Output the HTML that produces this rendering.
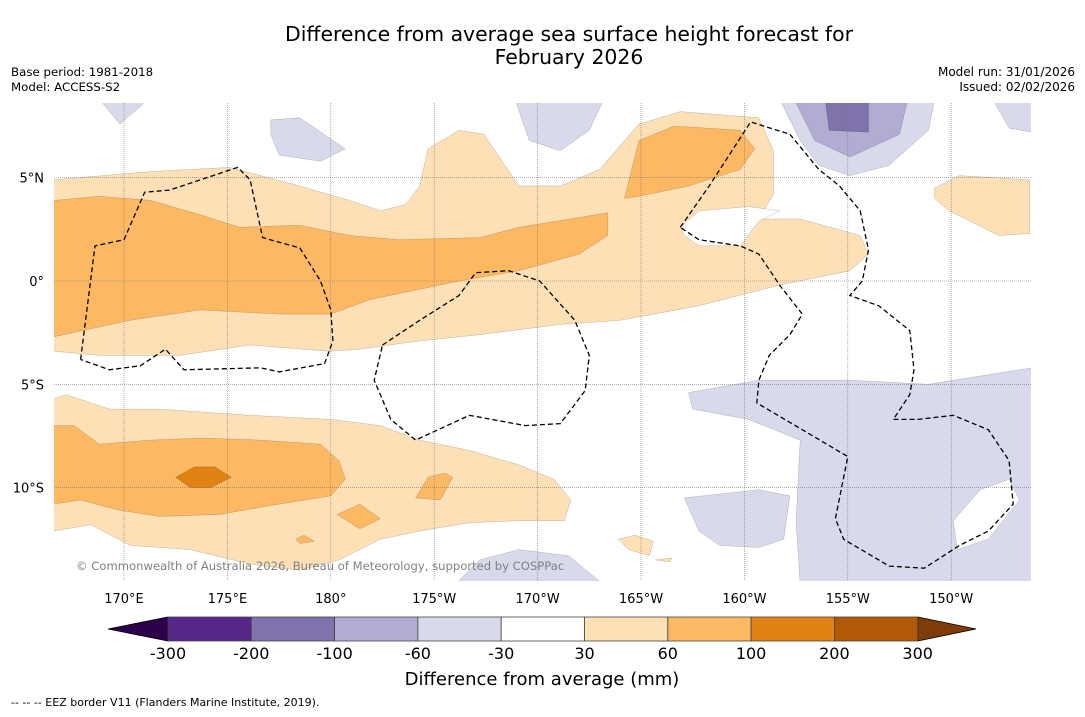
<!DOCTYPE html>
<html><head><meta charset="utf-8"><style>
html,body{margin:0;padding:0;background:#fff;}
body{width:1085px;height:713px;overflow:hidden;font-family:"DejaVu Sans","Liberation Sans",sans-serif;}
svg text{font-family:"DejaVu Sans","Liberation Sans",sans-serif;}
</style></head><body>
<svg id="chart" width="1085" height="713" viewBox="0 0 1085 713" xmlns="http://www.w3.org/2000/svg">
<text x="569" y="41" font-size="20.4" text-anchor="middle">Difference from average sea surface height forecast for</text>
<text x="569" y="64" font-size="20.4" text-anchor="middle">February 2026</text>
<text x="11" y="76" font-size="11.8">Base period: 1981-2018</text>
<text x="11" y="91" font-size="11.8">Model: ACCESS-S2</text>
<text x="1075" y="76" font-size="12" text-anchor="end">Model run: 31/01/2026</text>
<text x="1075" y="91" font-size="12" text-anchor="end">Issued: 02/02/2026</text>
<defs><clipPath id="mapclip"><rect x="54" y="103" width="977" height="478"/></clipPath></defs>
<g id="map" clip-path="url(#mapclip)"></g>
<g id="axes"></g>
<text x="76" y="570" font-size="11.6" fill="#808080">© Commonwealth of Australia 2026, Bureau of Meteorology, supported by COSPPac</text>
<g id="cbar"></g>
<text x="542" y="685" font-size="18" text-anchor="middle">Difference from average (mm)</text>
<text x="11" y="706" font-size="11">--  --  -- EEZ border V11 (Flanders Marine Institute, 2019).</text>
</svg>
<script>
const lonTicks=[170,175,180,185,190,195,200,205,210];
const lonTickLabels=["170°E","175°E","180°","175°W","170°W","165°W","160°W","155°W","150°W"];
const latTicks=[5,0,-5,-10];
const latTickLabels=["5°N","0°","5°S","10°S"];
const levels=[-300,-200,-100,-60,-30,30,60,100,200,300];
const levelColors=["#542788","#8073ac","#b2abd2","#d8daeb","#ffffff","#fee0b6","#fdb863","#e08214","#b35806"];
const extLowColor="#2d004b", extHighColor="#7f3b08";
const northLight=[[166.6,4.9],[171.3,5.3],[175.1,5.5],[178.5,4.6],[180.9,3.9],[182.4,3.4],[183.6,3.7],[184.3,4.6],[184.7,6.4],[186.2,7.3],[187.4,7.1],[189.1,4.6],[191.1,4.6],[193.0,5.4],[194.9,7.6],[196.9,8.2],[200.7,7.9],[201.4,6.3],[201.4,4.2],[200.7,3.0],[202.7,3.0],[205.6,2.2],[206.0,1.3],[205.1,0.5],[201.7,-0.2],[197.8,-1.2],[194.0,-1.9],[191.1,-2.1],[187.2,-2.6],[184.3,-2.9],[181.4,-3.3],[179.9,-3.4],[176.1,-3.1],[172.7,-3.6],[168.8,-3.6],[166.6,-3.4]];
const northDark=[[166.6,3.9],[168.8,4.1],[171.3,3.9],[173.7,3.2],[175.6,2.6],[178.5,2.7],[180.9,2.2],[183.3,2.0],[187.2,2.1],[189.1,2.6],[193.4,3.3],[193.4,2.2],[192.0,1.3],[189.1,0.5],[186.2,0.0],[184.3,-0.4],[181.9,-0.9],[180.0,-1.6],[177.5,-1.6],[173.7,-1.4],[170.3,-1.9],[166.6,-2.7]];
const northEastDark=[[194.2,4.0],[194.9,6.8],[196.6,7.5],[199.8,7.3],[200.5,6.4],[199.8,5.4],[197.3,4.6],[194.9,4.1]];
const northHole=[[196.9,2.6],[197.8,3.4],[200.2,3.6],[201.7,3.4],[200.7,2.9],[199.8,1.7],[197.8,1.7],[197.1,2.2]];
const eastLight=[[209.2,4.5],[210.4,5.1],[213.8,4.9],[213.8,2.3],[212.3,2.2],[209.9,3.4],[209.2,4.0]];
const southLight=[[166.6,-5.7],[167.2,-5.5],[169.3,-6.2],[171.7,-6.2],[176.1,-6.5],[180.0,-6.7],[182.4,-7.0],[184.3,-7.7],[186.7,-8.2],[189.1,-8.9],[190.8,-9.6],[191.6,-10.6],[191.3,-11.6],[189.1,-11.6],[186.7,-11.7],[184.3,-12.1],[182.4,-12.5],[180.4,-13.5],[178.5,-14.0],[176.1,-13.7],[173.2,-13.0],[170.3,-12.8],[168.4,-11.8],[166.6,-12.1]];
const southDark=[[166.6,-7.0],[167.6,-7.0],[168.8,-7.9],[171.3,-7.7],[173.7,-7.6],[176.6,-7.7],[179.5,-7.9],[180.4,-8.7],[180.7,-9.6],[180.0,-10.4],[177.5,-10.8],[174.6,-11.3],[171.7,-11.4],[169.8,-11.1],[167.9,-10.6],[166.6,-10.8]];
const southDarkest=[[172.5,-9.5],[173.4,-9.0],[174.4,-9.0],[175.2,-9.5],[174.2,-10.0],[173.2,-10.0]];
const smallDark1=[[184.1,-10.5],[184.7,-9.5],[185.5,-9.3],[185.9,-9.5],[185.3,-10.6]];
const smallDark2=[[180.3,-11.3],[181.4,-10.8],[182.4,-11.5],[181.4,-12.0]];
const smallDark3=[[178.3,-12.5],[178.7,-12.3],[179.2,-12.6],[178.5,-12.7]];
const smallLight1=[[193.9,-12.5],[194.7,-12.3],[195.6,-12.6],[195.4,-13.3],[194.4,-13.0]];
const smallLight2=[[195.7,-13.5],[196.5,-13.4],[196.4,-13.6]];
const topPurpleLight=[[201.7,8.8],[202.7,6.8],[203.6,5.6],[205.1,5.1],[207.0,5.6],[208.9,7.3],[209.2,8.8]];
const topPurpleMid=[[202.4,8.8],[203.4,6.8],[205.1,6.0],[207.5,7.1],[207.9,8.8]];
const topPurpleDark=[[203.9,8.8],[204.1,7.3],[206.0,7.2],[206.0,8.8]];
const purpleBlob1=[[177.1,7.8],[178.5,7.9],[180.7,6.4],[179.5,5.8],[177.5,6.1],[177.1,7.1]];
const purpleBlob2=[[168.8,8.8],[169.8,7.6],[171.2,8.8]];
const purpleBlob3=[[188.9,8.8],[189.6,6.8],[191.1,6.3],[192.5,7.3],[193.2,8.8]];
const purpleBlob4=[[212.0,8.8],[212.8,7.4],[213.9,7.2],[213.9,8.8]];
const sePurple=[[197.3,-5.4],[200.7,-4.8],[205.1,-4.8],[208.9,-5.0],[213.9,-4.2],[213.9,-14.7],[202.7,-14.7],[202.5,-11.6],[202.6,-9.6],[202.7,-7.7],[200.2,-6.7],[197.5,-6.2]];
const sPurpleBlob=[[197.1,-10.5],[200.7,-10.1],[202.2,-10.4],[201.9,-12.5],[200.7,-12.9],[198.8,-12.8],[197.8,-12.1]];
const seHole=[[210.1,-11.6],[211.4,-10.1],[212.8,-9.6],[213.3,-10.6],[211.8,-12.5],[210.3,-13.0]];
const bottomPurple=[[186.0,-14.7],[187.2,-13.5],[189.1,-13.0],[191.5,-13.3],[193.2,-14.7]];
const eezLeft=[[167.9,-3.8],[168.6,1.7],[170.0,2.0],[171.0,4.3],[172.2,4.4],[175.5,5.5],[176.1,4.9],[176.7,2.1],[178.5,1.6],[179.5,0.0],[180.0,-1.4],[180.1,-2.9],[179.7,-4.0],[177.5,-4.4],[176.6,-4.2],[172.9,-4.3],[172.0,-3.3],[170.8,-4.1],[169.3,-4.3],[167.9,-3.8]];
const eezMid=[[182.5,-3.1],[184.3,-1.9],[186.2,-0.7],[187.0,0.4],[188.6,0.5],[190.1,0.0],[191.8,-1.9],[192.5,-3.6],[192.3,-5.3],[191.1,-6.9],[189.4,-7.0],[186.7,-6.5],[184.1,-7.7],[182.9,-6.7],[182.1,-4.8],[182.5,-3.1]];
const eezRight=[[196.9,2.6],[198.3,4.6],[200.3,7.7],[202.2,7.1],[203.6,5.4],[204.6,4.6],[205.6,3.4],[206.0,1.5],[205.7,0.0],[205.1,-0.7],[206.5,-1.2],[208.0,-2.4],[208.2,-4.3],[208.0,-5.5],[207.2,-6.7],[208.4,-6.7],[210.1,-6.5],[211.8,-7.2],[212.8,-8.7],[213.0,-10.8],[211.8,-12.1],[210.4,-12.8],[208.7,-13.9],[207.0,-13.8],[204.8,-12.5],[204.4,-11.5],[205.0,-8.5],[200.6,-5.9],[200.7,-4.8],[201.2,-3.6],[202.2,-2.6],[202.8,-1.6],[201.7,-0.2],[200.7,1.3],[199.8,1.7],[197.8,2.0],[196.9,2.6]];

const NS="http://www.w3.org/2000/svg";
const X=lon=>124+(lon-170)*20.68;
const Y=lat=>281-lat*20.66;
const pts=a=>a.map(p=>X(p[0]).toFixed(1)+","+Y(p[1]).toFixed(1)).join(" ");
const map=document.getElementById("map");
function poly(arr,fill,name){
  const e=document.createElementNS(NS,"polygon");
  e.setAttribute("points",pts(arr));
  e.setAttribute("fill",fill);
  e.setAttribute("stroke","rgba(0,0,0,0.25)");
  e.setAttribute("stroke-width","0.5");
  
  
  map.appendChild(e);
}
const bg=document.createElementNS(NS,"rect");
bg.setAttribute("x",54);bg.setAttribute("y",103);bg.setAttribute("width",977);bg.setAttribute("height",478);bg.setAttribute("fill","#fff");


map.appendChild(bg);
const L=levelColors;
poly(northLight,L[5],"north-anomaly-30-60");
poly(eastLight,L[5],"east-anomaly-30-60");
poly(southLight,L[5],"south-anomaly-30-60");
poly(smallLight1,L[5],"small-anomaly-30-60");
poly(smallLight2,L[5],"small-anomaly-30-60");
poly(northDark,L[6],"north-anomaly-60-100");
poly(northEastDark,L[6],"northeast-anomaly-60-100");
poly(southDark,L[6],"south-anomaly-60-100");
poly(smallDark1,L[6],"small-anomaly-60-100");
poly(smallDark2,L[6],"small-anomaly-60-100");
poly(smallDark3,L[6],"small-anomaly-60-100");
poly(southDarkest,L[7],"south-anomaly-100-200");
poly(northHole,L[4],"north-neutral-hole");
poly(topPurpleLight,L[3],"top-anomaly-minus60-30");
poly(topPurpleMid,L[2],"top-anomaly-minus100-60");
poly(topPurpleDark,L[1],"top-anomaly-minus200-100");
[purpleBlob1,purpleBlob2,purpleBlob3,purpleBlob4,sePurple,sPurpleBlob,bottomPurple].forEach(a=>poly(a,L[3],"anomaly-minus60-30"));
poly(seHole,L[4],"southeast-neutral-hole");
lonTicks.forEach(lon=>{
  const l=document.createElementNS(NS,"line");
  l.setAttribute("x1",X(lon));l.setAttribute("x2",X(lon));l.setAttribute("y1",103);l.setAttribute("y2",581);
  l.setAttribute("stroke","#777");l.setAttribute("stroke-width","0.6");l.setAttribute("stroke-dasharray","1,1");
  
  
  map.appendChild(l);
});
latTicks.forEach(lat=>{
  const l=document.createElementNS(NS,"line");
  l.setAttribute("x1",54);l.setAttribute("x2",1031);l.setAttribute("y1",Y(lat));l.setAttribute("y2",Y(lat));
  l.setAttribute("stroke","#777");l.setAttribute("stroke-width","0.6");l.setAttribute("stroke-dasharray","1,1");
  
  
  map.appendChild(l);
});
[eezLeft,eezMid,eezRight].forEach(a=>{
  const e=document.createElementNS(NS,"polyline");
  e.setAttribute("points",pts(a));
  e.setAttribute("fill","none");e.setAttribute("stroke","#000");e.setAttribute("stroke-width","1.3");e.setAttribute("stroke-dasharray","5,3");
  
  
  map.appendChild(e);
});
const axes=document.getElementById("axes");
lonTicks.forEach((lon,i)=>{
  const t=document.createElementNS(NS,"text");
  t.setAttribute("x",X(lon));t.setAttribute("y",603);t.setAttribute("font-size","13");t.setAttribute("text-anchor","middle");
  t.textContent=lonTickLabels[i];
  
  
  axes.appendChild(t);
});
latTicks.forEach((lat,i)=>{
  const t=document.createElementNS(NS,"text");
  t.setAttribute("x",44);t.setAttribute("y",Y(lat)+5);t.setAttribute("font-size","13");t.setAttribute("text-anchor","end");
  t.textContent=latTickLabels[i];
  
  
  axes.appendChild(t);
});
const cb=document.getElementById("cbar");
const cx0=168, cw=83.3, cy=617, ch=24;
function add(tag,attrs,name){
  const e=document.createElementNS(NS,tag);
  for(const k in attrs)e.setAttribute(k,attrs[k]);
  
  
  cb.appendChild(e);return e;
}
add("polygon",{points:`${cx0},${cy} ${cx0},${cy+ch} 108,${cy+ch/2}`,fill:extLowColor,stroke:"#000","stroke-width":"0.8"},"colorbar-low-extension");
const nb=levelColors.length;
add("polygon",{points:`${cx0+nb*cw},${cy} ${cx0+nb*cw},${cy+ch} 976,${cy+ch/2}`,fill:extHighColor,stroke:"#000","stroke-width":"0.8"},"colorbar-high-extension");
levelColors.forEach((c,i)=>{
  add("rect",{x:cx0+i*cw,y:cy,width:cw,height:ch,fill:c,stroke:"#444","stroke-width":"0.8"},"colorbar-swatch");
});
levels.forEach((v,i)=>{
  const t=add("text",{x:cx0+i*cw,y:659,"font-size":"16","text-anchor":"middle"},"colorbar-tick-label");
  t.textContent=v;
});
</script>
</body></html>
